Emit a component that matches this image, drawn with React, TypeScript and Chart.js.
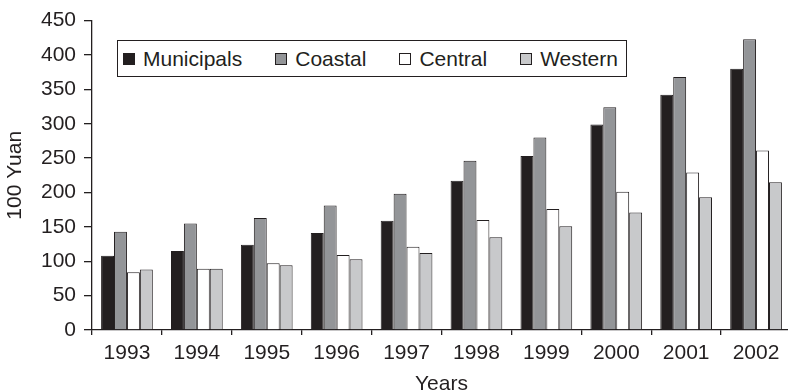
import React, { useEffect, useRef } from "react";
import { Chart, registerables } from "chart.js";

Chart.register(...registerables);

const years = ["1993", "1994", "1995", "1996", "1997", "1998", "1999", "2000", "2001", "2002"];
const seriesNames = ["Municipals", "Coastal", "Central", "Western"];
const municipals = [108, 115, 124, 141, 159, 217, 253, 299, 342, 380];
const coastal = [143, 155, 163, 181, 198, 246, 280, 324, 368, 423];
const central = [84, 89, 97, 109, 121, 160, 176, 201, 229, 261];
const western = [88, 89, 94, 103, 112, 135, 151, 171, 193, 215];
const yMin = 0;
const yMax = 450;
const yStep = 50;
const yTitle = "100 Yuan";
const xTitle = "Years";

const INK = "#231f20";
const colors = ["#231f20", "#939598", "#ffffff", "#c8c9cb"];
const FONT = "'Liberation Sans', Arial, Helvetica, sans-serif";
const FS = 21;

export default function App() {
  const ref = useRef<HTMLCanvasElement | null>(null);

  useEffect(() => {
    const canvas = ref.current;
    if (!canvas) return;
    const values = [municipals, coastal, central, western];
    const chart = new Chart(canvas, {
      type: "bar",
      data: {
        labels: years,
        datasets: seriesNames.map((name, i) => ({
          label: name,
          data: values[i],
          backgroundColor: colors[i],
          borderColor: INK,
          borderWidth: 1,
          categoryPercentage: 0.74,
          barPercentage: 1,
        })),
      },
      options: {
        responsive: false,
        animation: false,
        devicePixelRatio: 1,
        layout: { padding: { top: 20, left: 0, right: 1, bottom: 0 } },
        plugins: {
          legend: { display: false },
          tooltip: { enabled: false },
        },
        scales: {
          x: {
            grid: {
              display: true,
              offset: true,
              drawOnChartArea: false,
              drawTicks: true,
              tickLength: 5,
              color: INK,
              lineWidth: 1.3,
            },
            border: { display: true, color: INK, width: 1.3 },
            ticks: {
              color: INK,
              font: { family: FONT, size: FS },
              padding: 6,
              maxRotation: 0,
            },
            title: {
              display: true,
              text: xTitle,
              color: INK,
              font: { family: FONT, size: FS, lineHeight: 0.72 },
              padding: { top: 0, bottom: 0 },
            },
            afterFit: (s: any) => {
              s.height = 62;
            },
          },
          y: {
            min: yMin,
            max: yMax,
            grid: {
              display: true,
              drawOnChartArea: false,
              drawTicks: true,
              tickLength: 8,
              color: INK,
              lineWidth: 1.3,
            },
            border: { display: true, color: INK, width: 1.3 },
            ticks: {
              stepSize: yStep,
              color: INK,
              font: { family: FONT, size: FS },
              padding: 8,
            },
            title: {
              display: true,
              text: yTitle,
              color: INK,
              font: { family: FONT, size: FS },
              padding: { top: 3, bottom: 0 },
            },
            afterFit: (s: any) => {
              s.width = 92;
            },
          },
        },
      },
    });
    return () => chart.destroy();
  }, []);

  return (
    <div
      style={{
        position: "absolute",
        left: 0,
        top: 0,
        width: 788,
        height: 392,
        overflow: "hidden",
        background: "#fff",
      }}
    >
      <div style={{ position: "relative", width: 792, height: 392 }}>
        <canvas ref={ref} width={792} height={392} style={{ display: "block" }} />
        <div
          style={{
            position: "absolute",
            left: 117,
            top: 40,
            width: 510,
            height: 37,
            boxSizing: "border-box",
            border: `1.5px solid ${INK}`,
            background: "#fff",
            display: "flex",
            alignItems: "center",
            paddingLeft: 5,
            fontFamily: FONT,
            fontSize: FS,
            color: INK,
            whiteSpace: "nowrap",
          }}
        >
          {seriesNames.map((name, i) => (
            <div
              key={name}
              style={{
                display: "flex",
                alignItems: "center",
                marginRight: 33,
              }}
            >
              <span
                style={{
                  display: "inline-block",
                  width: 12,
                  height: 12,
                  boxSizing: "border-box",
                  background: colors[i],
                  border: `1px solid ${INK}`,
                  marginRight: 8,
                }}
              />
              <span>{name}</span>
            </div>
          ))}
        </div>
      </div>
    </div>
  );
}
